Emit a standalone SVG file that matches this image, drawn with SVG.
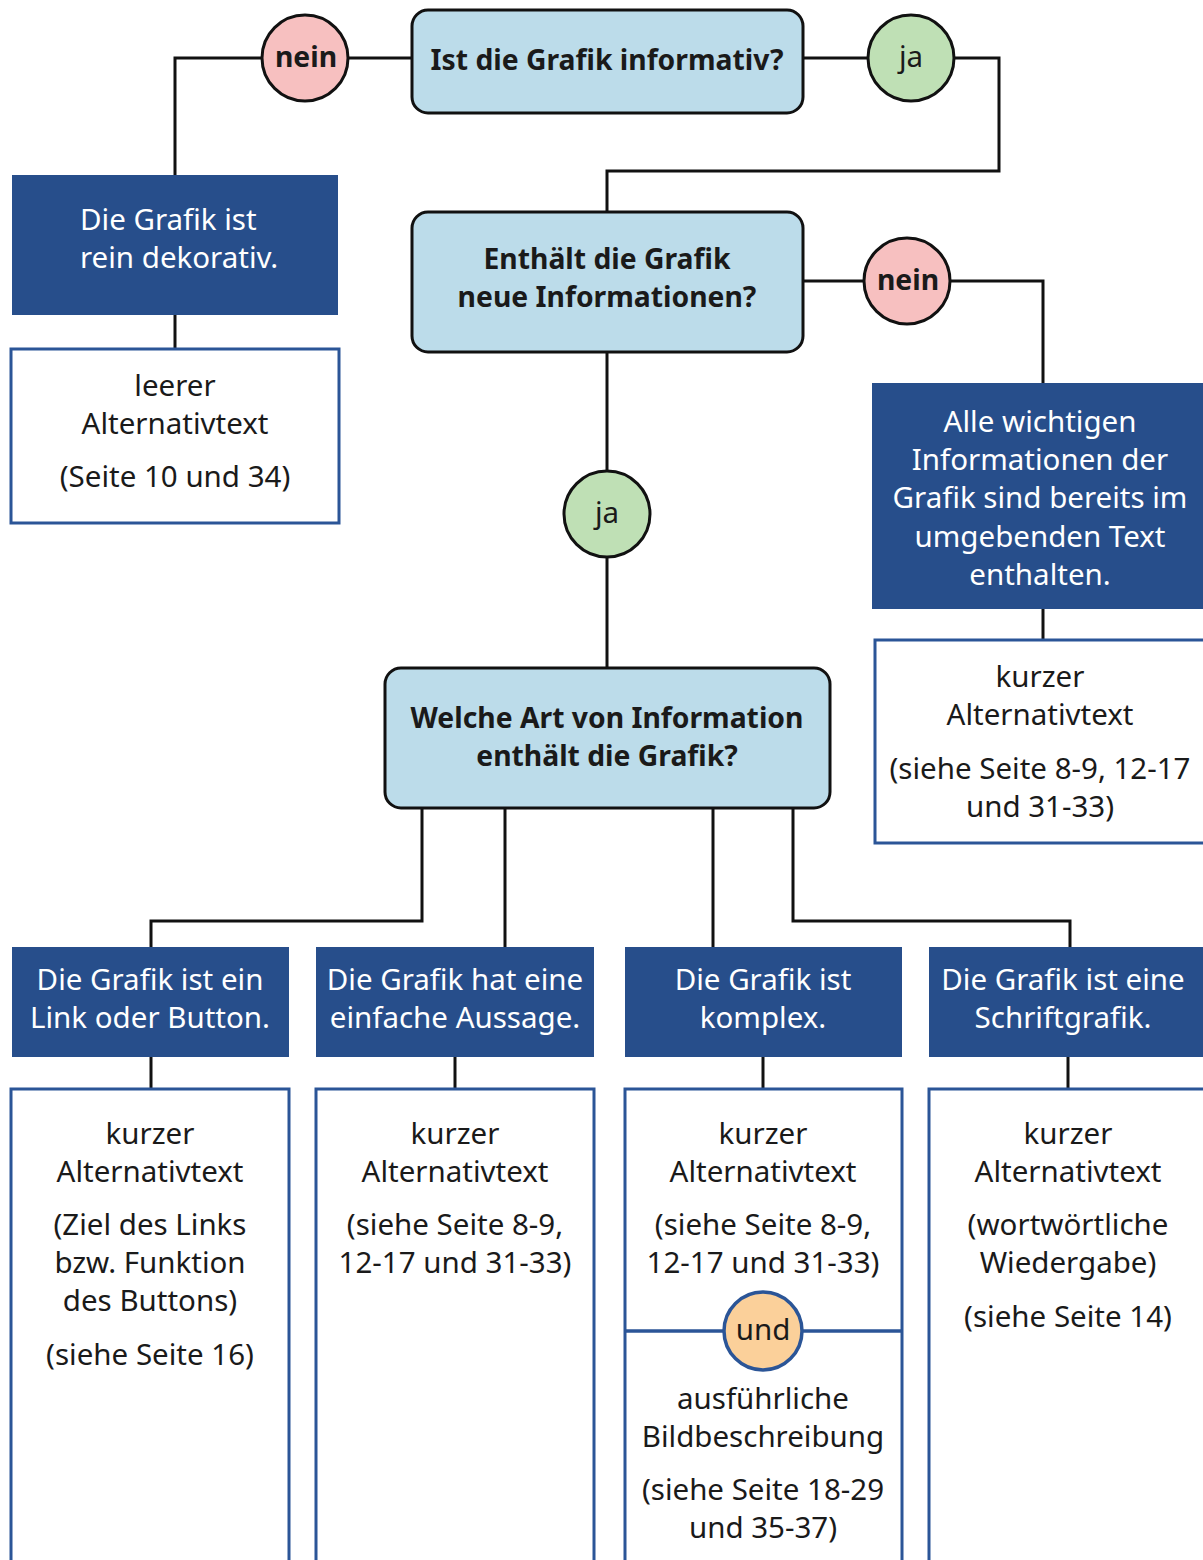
<svg xmlns="http://www.w3.org/2000/svg" width="1203" height="1560" viewBox="0 0 1203 1560">
<style>
.q{fill:#bcdcea;stroke:#111;stroke-width:3}
.d{fill:#274e8b}
.w{fill:#fff;stroke:#2b5597;stroke-width:3}
.no{fill:#f7c0c0;stroke:#111;stroke-width:3}
.yes{fill:#bfe0b5;stroke:#111;stroke-width:3}
.and{fill:#fbd09a;stroke:#2b5597;stroke-width:3.5}
.ln{fill:none;stroke:#111;stroke-width:3}
text{font-family:"Noto Sans","Open Sans","Liberation Sans",sans-serif;font-size:29.5px;text-anchor:middle;fill:#1a1a1a}
.b{font-weight:bold;font-size:28.3px}
.wt{fill:#fff}
.l{text-anchor:start}
</style>
<g id="connectors">
<path class="ln" d="M262,58 H175 V175"/>
<path class="ln" d="M348,58 H412"/>
<path class="ln" d="M803,58 H868"/>
<path class="ln" d="M954,58 H999 V171 H607 V212"/>
<path class="ln" d="M175,315 V349"/>
<path class="ln" d="M803,281 H864"/>
<path class="ln" d="M950,281 H1043 V383"/>
<path class="ln" d="M1043,609 V640"/>
<path class="ln" d="M607,352 V471"/>
<path class="ln" d="M607,557 V668"/>
<path class="ln" d="M422,808 V921 H151 V947"/>
<path class="ln" d="M505,808 V947"/>
<path class="ln" d="M713,808 V947"/>
<path class="ln" d="M793,808 V921 H1070 V947"/>
<path class="ln" d="M151,1057 V1089"/>
<path class="ln" d="M455,1057 V1089"/>
<path class="ln" d="M763,1057 V1089"/>
<path class="ln" d="M1068,1057 V1089"/>
</g>
<g id="q1">
<rect class="q" x="412" y="10" width="391" height="103" rx="16"/>
<text class="b" x="607" y="70">Ist die Grafik informativ?</text>
</g>
<g id="nein1">
<circle class="no" cx="305" cy="58" r="43"/>
<text class="b" x="306" y="67">nein</text>
</g>
<g id="ja1">
<circle class="yes" cx="911" cy="58" r="43"/>
<text x="911" y="67">ja</text>
</g>
<g id="deko">
<rect class="d" x="12" y="175" width="326" height="140"/>
<text class="wt l" x="80" y="230">Die Grafik ist</text>
<text class="wt l" x="80" y="268">rein dekorativ.</text>
</g>
<g id="leer">
<rect class="w" x="11" y="349" width="328" height="174"/>
<text x="175" y="396">leerer</text>
<text x="175" y="434">Alternativtext</text>
<text x="175" y="487">(Seite 10 und 34)</text>
</g>
<g id="q2">
<rect class="q" x="412" y="212" width="391" height="140" rx="16"/>
<text class="b" x="607" y="269">Enthält die Grafik</text>
<text class="b" x="607" y="307">neue Informationen?</text>
</g>
<g id="nein2">
<circle class="no" cx="907" cy="281" r="43"/>
<text class="b" x="908" y="290">nein</text>
</g>
<g id="bereits">
<rect class="d" x="872" y="383" width="340" height="226"/>
<text class="wt" x="1040" y="432">Alle wichtigen</text>
<text class="wt" x="1040" y="470">Informationen der</text>
<text class="wt" x="1040" y="508">Grafik sind bereits im</text>
<text class="wt" x="1040" y="547">umgebenden Text</text>
<text class="wt" x="1040" y="585">enthalten.</text>
</g>
<g id="kurz0">
<rect class="w" x="875" y="640" width="340" height="203"/>
<text x="1040" y="687">kurzer</text>
<text x="1040" y="725">Alternativtext</text>
<text x="1040" y="779">(siehe Seite 8-9, 12-17</text>
<text x="1040" y="817">und 31-33)</text>
</g>
<g id="ja2">
<circle class="yes" cx="607" cy="514" r="43"/>
<text x="607" y="523">ja</text>
</g>
<g id="q3">
<rect class="q" x="385" y="668" width="445" height="140" rx="16"/>
<text class="b" x="607" y="728">Welche Art von Information</text>
<text class="b" x="607" y="766">enthält die Grafik?</text>
</g>
<g id="link">
<rect class="d" x="12" y="947" width="277" height="110"/>
<text class="wt" x="150" y="990">Die Grafik ist ein</text>
<text class="wt" x="150" y="1028">Link oder Button.</text>
</g>
<g id="einfach">
<rect class="d" x="316" y="947" width="278" height="110"/>
<text class="wt" x="455" y="990">Die Grafik hat eine</text>
<text class="wt" x="455" y="1028">einfache Aussage.</text>
</g>
<g id="komplex">
<rect class="d" x="625" y="947" width="277" height="110"/>
<text class="wt" x="763" y="990">Die Grafik ist</text>
<text class="wt" x="763" y="1028">komplex.</text>
</g>
<g id="schrift">
<rect class="d" x="929" y="947" width="280" height="110"/>
<text class="wt" x="1063" y="990">Die Grafik ist eine</text>
<text class="wt" x="1063" y="1028">Schriftgrafik.</text>
</g>
<g id="kurz1">
<rect class="w" x="11" y="1089" width="278" height="500"/>
<text x="150" y="1144">kurzer</text>
<text x="150" y="1182">Alternativtext</text>
<text x="150" y="1235">(Ziel des Links</text>
<text x="150" y="1273">bzw. Funktion</text>
<text x="150" y="1311">des Buttons)</text>
<text x="150" y="1365">(siehe Seite 16)</text>
</g>
<g id="kurz2">
<rect class="w" x="316" y="1089" width="278" height="500"/>
<text x="455" y="1144">kurzer</text>
<text x="455" y="1182">Alternativtext</text>
<text x="455" y="1235">(siehe Seite 8-9,</text>
<text x="455" y="1273">12-17 und 31-33)</text>
</g>
<g id="kurz3">
<rect class="w" x="625" y="1089" width="277" height="500"/>
<text x="763" y="1144">kurzer</text>
<text x="763" y="1182">Alternativtext</text>
<text x="763" y="1235">(siehe Seite 8-9,</text>
<text x="763" y="1273">12-17 und 31-33)</text>
<line x1="625" y1="1331" x2="902" y2="1331" stroke="#2b5597" stroke-width="3.5"/>
<text x="763" y="1409">ausführliche</text>
<text x="763" y="1447">Bildbeschreibung</text>
<text x="763" y="1500">(siehe Seite 18-29</text>
<text x="763" y="1538">und 35-37)</text>
</g>
<g id="und">
<circle class="and" cx="763" cy="1331" r="39"/>
<text x="763" y="1340">und</text>
</g>
<g id="kurz4">
<rect class="w" x="929" y="1089" width="280" height="500"/>
<text x="1068" y="1144">kurzer</text>
<text x="1068" y="1182">Alternativtext</text>
<text x="1068" y="1235">(wortwörtliche</text>
<text x="1068" y="1273">Wiedergabe)</text>
<text x="1068" y="1327">(siehe Seite 14)</text>
</g>
</svg>
